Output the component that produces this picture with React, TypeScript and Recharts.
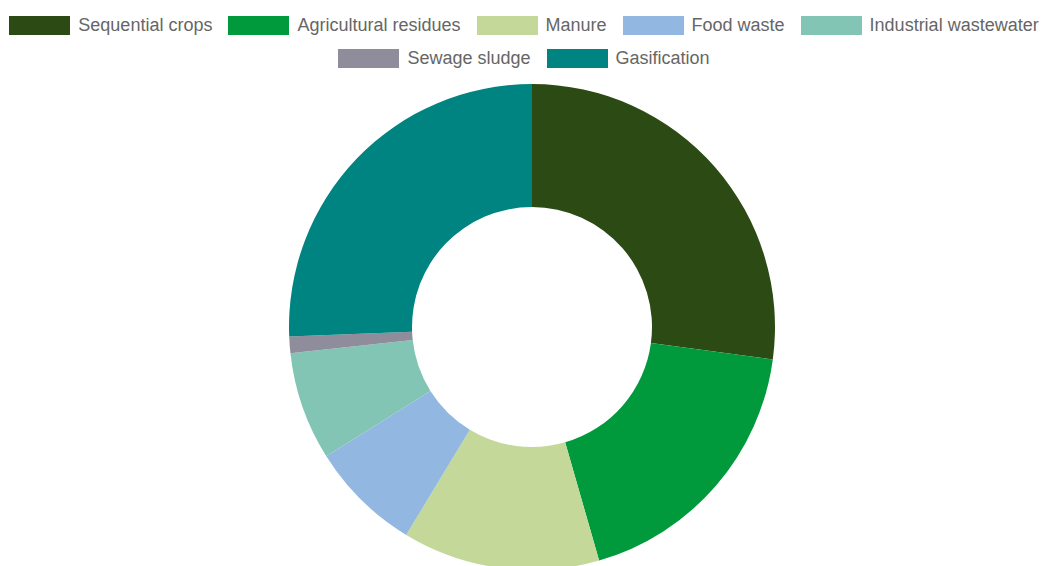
import { PieChart, Pie, Cell } from "recharts";

const categories = [
  "Sequential crops",
  "Agricultural residues",
  "Manure",
  "Food waste",
  "Industrial wastewater",
  "Sewage sludge",
  "Gasification",
];
const shares = [27.1, 18.4, 13.1, 7.4, 7.2, 1.1, 25.6];
const colors = ["#2c4b14", "#009a3c", "#c4d899", "#92b8e2", "#82c5b5", "#8f8c9b", "#008481"];

const data = categories.map((name, i) => ({ name, value: shares[i] }));

// legend rows as in the source: five on top, two below
const legendRows = [categories.slice(0, 5), categories.slice(5)];

function ChartLegend() {
  let idx = 0;
  return (
    <div
      style={{
        position: "absolute",
        top: 16,
        left: 0,
        width: 1048,
        fontFamily: "'Liberation Sans', Arial, sans-serif",
        fontSize: 18,
        color: "#666",
      }}
    >
      {legendRows.map((row, r) => (
        <div
          key={r}
          style={{ display: "flex", justifyContent: "center", alignItems: "center", height: 19, marginBottom: 14 }}
        >
          {row.map((name, i) => {
            const c = colors[idx++];
            return (
              <div key={name} style={{ display: "flex", alignItems: "center", marginRight: i < row.length - 1 ? 16 : 0 }}>
                <span style={{ display: "inline-block", width: 61, height: 19, background: c, marginRight: 8 }} />
                <span>{name}</span>
              </div>
            );
          })}
        </div>
      ))}
    </div>
  );
}

export default function App() {
  return (
    <div style={{ position: "absolute", left: 0, top: 0, width: 1041, height: 566, background: "#fff" }}>
      <PieChart width={1041} height={566}>
        <Pie
          data={data}
          dataKey="value"
          nameKey="name"
          cx={527}
          cy={322}
          innerRadius={120}
          outerRadius={243}
          startAngle={90}
          endAngle={-270}
          stroke="none"
          isAnimationActive={false}
        >
          {data.map((d, i) => (
            <Cell key={d.name} fill={colors[i]} />
          ))}
        </Pie>
      </PieChart>
      <ChartLegend />
    </div>
  );
}
